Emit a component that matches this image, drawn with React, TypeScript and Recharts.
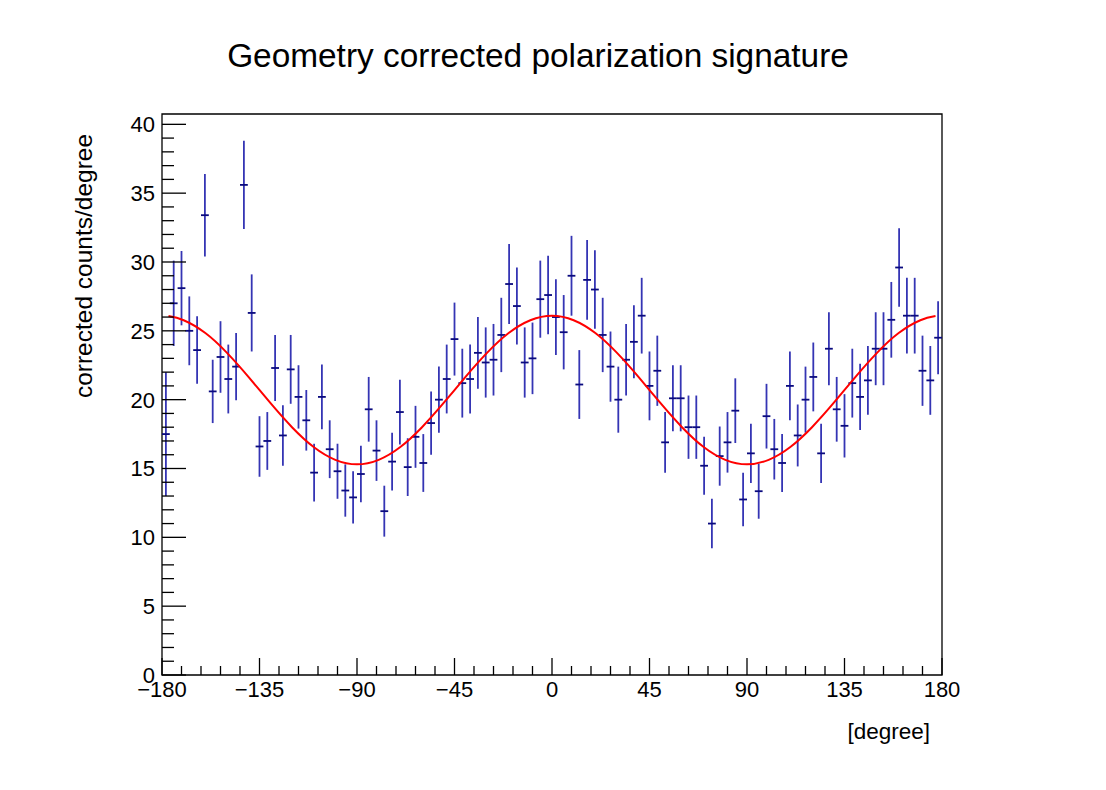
import React from 'react';
import {
  ComposedChart,
  Scatter,
  ErrorBar,
  Line,
  XAxis,
  YAxis,
  ReferenceArea,
} from 'recharts';

// histogram: 100 bins over [-180, 180]
const BIN_LOW = -180;
const BIN_WIDTH = 3.6;

const counts = [
  17.5, 27.0, 28.1, 25.0, 23.6, 33.4, 20.6, 23.1, 21.5, 22.4,
  35.6, 26.3, 16.6, 17.0, 22.3, 17.4, 22.2, 20.2, 18.5, 14.7,
  20.2, 16.4, 14.8, 13.4, 12.9, 14.6, 19.3, 16.3, 11.9, 15.5,
  19.1, 15.1, 17.3, 15.4, 18.3, 20.0, 21.5, 24.4, 21.2, 21.5,
  23.4, 22.7, 22.9, 24.7, 28.4, 26.8, 22.7, 23.0, 27.3, 27.6,
  26.0, 24.9, 29.0, 21.1, 28.7, 28.0, 24.7, 22.4, 20.0, 22.9,
  24.2, 26.1, 21.0, 22.1, 16.9, 20.1, 20.1, 18.0, 18.0, 15.2,
  11.0, 15.9, 16.9, 19.2, 12.75, 16.1, 13.35, 18.8, 16.4, 15.4,
  21.0, 17.4, 20.0, 21.65, 16.1, 23.7, 19.3, 18.1, 21.2, 20.2,
  21.4, 23.7, 23.7, 25.8, 29.6, 26.1, 26.1, 22.1, 21.4, 24.5,
];

const errors = [
  4.5, 3.1, 2.7, 2.5, 2.45, 3.0, 2.3, 2.6, 2.5, 2.45,
  3.2, 2.8, 2.2, 2.1, 2.4, 2.2, 2.5, 2.3, 2.2, 2.1,
  2.35, 2.1, 2.0, 1.9, 1.9, 2.05, 2.35, 2.2, 1.85, 2.1,
  2.35, 2.1, 2.25, 2.1, 2.3, 2.4, 2.5, 2.65, 2.5, 2.5,
  2.6, 2.55, 2.6, 2.7, 2.9, 2.8, 2.55, 2.6, 2.8, 2.85,
  2.75, 2.7, 2.9, 2.5, 2.9, 2.85, 2.7, 2.55, 2.4, 2.6,
  2.65, 2.75, 2.5, 2.55, 2.2, 2.4, 2.4, 2.3, 2.3, 2.1,
  1.8, 2.15, 2.2, 2.35, 1.95, 2.15, 2.0, 2.35, 2.2, 2.1,
  2.5, 2.25, 2.4, 2.5, 2.15, 2.65, 2.35, 2.3, 2.5, 2.4,
  2.5, 2.65, 2.65, 2.75, 2.85, 2.75, 2.75, 2.55, 2.5, 2.65,
];

// fitted curve
const fitX = [
  -177, -170, -160, -150, -140, -130, -120, -110, -100, -90,
  -80, -70, -60, -50, -40, -30, -20, -10, 0,
  10, 20, 30, 40, 50, 60, 70, 80, 90,
  100, 110, 120, 130, 140, 150, 160, 170, 177,
];
const fitY = [
  26.07, 25.77, 24.84, 23.4, 21.64, 19.76, 18.0, 16.56, 15.63, 15.3,
  15.63, 16.56, 18.0, 19.76, 21.64, 23.4, 24.84, 25.77, 26.1,
  25.77, 24.84, 23.4, 21.64, 19.76, 18.0, 16.56, 15.63, 15.3,
  15.63, 16.56, 18.0, 19.76, 21.64, 23.4, 24.84, 25.77, 26.07,
];

const xTicks = [
  -180, -171, -162, -153, -144, -135, -126, -117, -108, -99,
  -90, -81, -72, -63, -54, -45, -36, -27, -18, -9,
  0, 9, 18, 27, 36, 45, 54, 63, 72, 81,
  90, 99, 108, 117, 126, 135, 144, 153, 162, 171, 180,
];
const xLabelTicks = [-180, -135, -90, -45, 0, 45, 90, 135, 180];

const yTicks = [
  0, 1, 2, 3, 4, 5, 6, 7, 8, 9, 10, 11, 12, 13, 14, 15, 16, 17, 18, 19, 20,
  21, 22, 23, 24, 25, 26, 27, 28, 29, 30, 31, 32, 33, 34, 35, 36, 37, 38, 39, 40,
];
const yLabelTicks = [0, 5, 10, 15, 20, 25, 30, 35, 40];
const Y_MAX = 40.75;

const points = counts.map((c, i) => ({
  x: BIN_LOW + BIN_WIDTH * (i + 0.5),
  y: c,
  ey: errors[i],
  ex: BIN_WIDTH / 2,
}));

const fitCurve = fitX.map((x, i) => ({ x, y: fitY[i] }));

const FONT = '"Liberation Sans", Arial, Helvetica, sans-serif';

const fmt = (v: number) => (v < 0 ? '\u2212' + Math.abs(v) : String(v));

// ROOT style: ticks point into the frame
const renderXTick = (props: any) => {
  const { payload } = props;
  const v = payload.value;
  const x = payload.coordinate;
  const y = 675;
  const major = xLabelTicks.includes(v);
  return (
    <g key={'xt' + v}>
      <line x1={x} x2={x} y1={y} y2={y - (major ? 17 : 9)} stroke="#000" strokeWidth={1.3} />
      {major && (
        <text x={x} y={y + 22} textAnchor="middle" fontFamily={FONT} fontSize={22} fill="#000">
          {fmt(v)}
        </text>
      )}
    </g>
  );
};

const renderYTick = (props: any) => {
  const { payload } = props;
  const v = payload.value;
  const y = payload.coordinate;
  const x = 162;
  const major = yLabelTicks.includes(v);
  return (
    <g key={'yt' + v}>
      <line x1={x} x2={x + (major ? 24 : 12)} y1={y} y2={y} stroke="#000" strokeWidth={1.3} />
      {major && (
        <text x={x - 7} y={y + 8} textAnchor="end" fontFamily={FONT} fontSize={22} fill="#000">
          {fmt(v)}
        </text>
      )}
    </g>
  );
};

const NoMarker = () => <g />;

export default function App() {
  return (
    <div style={{ position: 'absolute', left: 0, top: 0, width: 1106, height: 790, background: '#fff' }}>
      <ComposedChart
        width={1106}
        height={790}
        margin={{ top: 114, right: 164, bottom: 105, left: 152 }}
      >
        <XAxis
          type="number"
          dataKey="x"
          domain={[-180, 180]}
          ticks={xTicks}
          interval={0}
          height={10}
          axisLine={false}
          tickLine={false}
          tick={renderXTick}
          allowDataOverflow
        />
        <YAxis
          type="number"
          dataKey="y"
          domain={[0, Y_MAX]}
          ticks={yTicks}
          interval={0}
          width={10}
          axisLine={false}
          tickLine={false}
          tick={renderYTick}
          allowDataOverflow
        />
        <ReferenceArea
          x1={-180}
          x2={180}
          y1={0}
          y2={Y_MAX}
          fill="none"
          fillOpacity={0}
          stroke="#000"
          strokeWidth={1.3}
          ifOverflow="visible"
        />
        <Scatter data={points} dataKey="y" shape={<NoMarker />} isAnimationActive={false}>
          <ErrorBar dataKey="ey" direction="y" width={0} stroke="#3535b4" strokeWidth={1.8} />
          <ErrorBar dataKey="ex" direction="x" width={0} stroke="#0a0a7e" strokeWidth={1.8} />
        </Scatter>
        <Line
          data={fitCurve}
          dataKey="y"
          type="natural"
          stroke="#ff0000"
          strokeWidth={2}
          dot={false}
          activeDot={false}
          isAnimationActive={false}
        />
      </ComposedChart>
      <svg
        width={1106}
        height={790}
        style={{ position: 'absolute', left: 0, top: 0, pointerEvents: 'none' }}
      >
        <text x={538} y={67} textAnchor="middle" fontFamily={FONT} fontSize={33.4} fill="#000">
          Geometry corrected polarization signature
        </text>
        <text x={930} y={739} textAnchor="end" fontFamily={FONT} fontSize={22.5} fill="#000">
          [degree]
        </text>
        <text
          x={0}
          y={0}
          transform="translate(92 266) rotate(-90)"
          textAnchor="middle"
          fontFamily={FONT}
          fontSize={24.5}
          fill="#000"
        >
          corrected counts/degree
        </text>
      </svg>
    </div>
  );
}
